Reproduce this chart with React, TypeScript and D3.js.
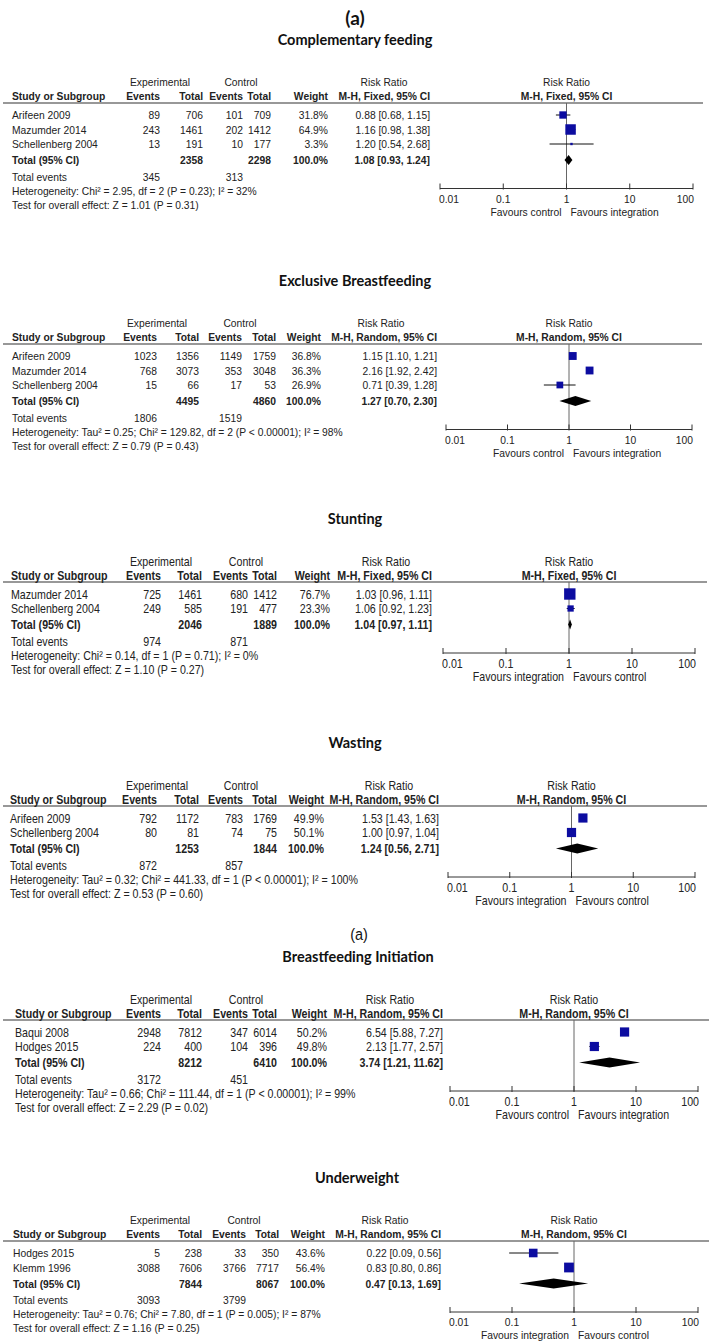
import React from "react";
import * as d3 from "d3";

type Row = [string, number, number, number, number, number, number, number, number];
// [study, expEvents, expTotal, ctrlEvents, ctrlTotal, weight, rr, lo, hi]
// totals: [expTotal, ctrlTotal, expEvents, ctrlEvents, rr, lo, hi]

const complementaryRows: Row[] = [
  ["Arifeen 2009", 89, 706, 101, 709, 31.8, 0.88, 0.68, 1.15],
  ["Mazumder 2014", 243, 1461, 202, 1412, 64.9, 1.16, 0.98, 1.38],
  ["Schellenberg 2004", 13, 191, 10, 177, 3.3, 1.2, 0.54, 2.68],
];
const complementaryTotal = [2358, 2298, 345, 313, 1.08, 0.93, 1.24];

const exclusiveRows: Row[] = [
  ["Arifeen 2009", 1023, 1356, 1149, 1759, 36.8, 1.15, 1.1, 1.21],
  ["Mazumder 2014", 768, 3073, 353, 3048, 36.3, 2.16, 1.92, 2.42],
  ["Schellenberg 2004", 15, 66, 17, 53, 26.9, 0.71, 0.39, 1.28],
];
const exclusiveTotal = [4495, 4860, 1806, 1519, 1.27, 0.7, 2.3];

const stuntingRows: Row[] = [
  ["Mazumder 2014", 725, 1461, 680, 1412, 76.7, 1.03, 0.96, 1.11],
  ["Schellenberg 2004", 249, 585, 191, 477, 23.3, 1.06, 0.92, 1.23],
];
const stuntingTotal = [2046, 1889, 974, 871, 1.04, 0.97, 1.11];

const wastingRows: Row[] = [
  ["Arifeen 2009", 792, 1172, 783, 1769, 49.9, 1.53, 1.43, 1.63],
  ["Schellenberg 2004", 80, 81, 74, 75, 50.1, 1.0, 0.97, 1.04],
];
const wastingTotal = [1253, 1844, 872, 857, 1.24, 0.56, 2.71];

const initiationRows: Row[] = [
  ["Baqui 2008", 2948, 7812, 347, 6014, 50.2, 6.54, 5.88, 7.27],
  ["Hodges 2015", 224, 400, 104, 396, 49.8, 2.13, 1.77, 2.57],
];
const initiationTotal = [8212, 6410, 3172, 451, 3.74, 1.21, 11.62];

const underweightRows: Row[] = [
  ["Hodges 2015", 5, 238, 33, 350, 43.6, 0.22, 0.09, 0.56],
  ["Klemm 1996", 3088, 7606, 3766, 7717, 56.4, 0.83, 0.8, 0.86],
];
const underweightTotal = [7844, 8067, 3093, 3799, 0.47, 0.13, 1.69];

const panelTitles = [
  "Complementary feeding",
  "Exclusive Breastfeeding",
  "Stunting",
  "Wasting",
  "Breastfeeding Initiation",
  "Underweight",
];
const methods = [
  "M-H, Fixed, 95% CI",
  "M-H, Random, 95% CI",
  "M-H, Fixed, 95% CI",
  "M-H, Random, 95% CI",
  "M-H, Random, 95% CI",
  "M-H, Random, 95% CI",
];
const heterogeneity = [
  "Heterogeneity: Chi² = 2.95, df = 2 (P = 0.23); I² = 32%",
  "Heterogeneity: Tau² = 0.25; Chi² = 129.82, df = 2 (P < 0.00001); I² = 98%",
  "Heterogeneity: Chi² = 0.14, df = 1 (P = 0.71); I² = 0%",
  "Heterogeneity: Tau² = 0.32; Chi² = 441.33, df = 1 (P < 0.00001); I² = 100%",
  "Heterogeneity: Tau² = 0.66; Chi² = 111.44, df = 1 (P < 0.00001); I² = 99%",
  "Heterogeneity: Tau² = 0.76; Chi² = 7.80, df = 1 (P = 0.005); I² = 87%",
];
const overallTests = [
  "Test for overall effect: Z = 1.01 (P = 0.31)",
  "Test for overall effect: Z = 0.79 (P = 0.43)",
  "Test for overall effect: Z = 1.10 (P = 0.27)",
  "Test for overall effect: Z = 0.53 (P = 0.60)",
  "Test for overall effect: Z = 2.29 (P = 0.02)",
  "Test for overall effect: Z = 1.16 (P = 0.25)",
];
const favoursLeft = ["Favours control", "Favours control", "Favours integration", "Favours integration", "Favours control", "Favours integration"];
const favoursRight = ["Favours integration", "Favours integration", "Favours control", "Favours control", "Favours integration", "Favours control"];
const axisTicks = [0.01, 0.1, 1, 10, 100];
const figureLabel = "(a)";

interface Layout {
  titleY: number;
  narrow: boolean;
  study: number; ee: number; et: number; ce: number; ct: number; w: number; rr: number;
  ax: [number, number];
  line: [number, number];
  titleX: number;
  rrHead: number;
}

const layouts: Layout[] = [
  { titleY: 40, narrow: false, study: 12, ee: 160, et: 203, ce: 243, ct: 271, w: 328, rr: 430, ax: [440, 693], line: [3, 703], titleX: 355, rrHead: 384 },
  { titleY: 281, narrow: false, study: 12, ee: 157, et: 199, ce: 242, ct: 276, w: 321, rr: 437, ax: [446, 692], line: [3, 702], titleX: 355, rrHead: 381 },
  { titleY: 519, narrow: true, study: 11, ee: 161, et: 202, ce: 248, ct: 277, w: 330, rr: 432, ax: [443, 695], line: [3, 707], titleX: 355, rrHead: 386 },
  { titleY: 743, narrow: true, study: 10, ee: 157, et: 199, ce: 243, ct: 277, w: 324, rr: 439, ax: [448, 695], line: [3, 707], titleX: 355, rrHead: 389 },
  { titleY: 957, narrow: true, study: 15, ee: 161, et: 202, ce: 248, ct: 277, w: 327, rr: 443, ax: [450, 698], line: [3, 709], titleX: 358, rrHead: 390 },
  { titleY: 1178, narrow: false, study: 13, ee: 160, et: 202, ce: 246, ct: 279, w: 325, rr: 441, ax: [450, 698], line: [3, 709], titleX: 357, rrHead: 385 },
];

const panelRows = [complementaryRows, exclusiveRows, stuntingRows, wastingRows, initiationRows, underweightRows];
const panelTotals = [complementaryTotal, exclusiveTotal, stuntingTotal, wastingTotal, initiationTotal, underweightTotal];

const f2 = d3.format(".2f");
const f1 = d3.format(".1f");
const ciText = (r: number, lo: number, hi: number) => `${f2(r)} [${f2(lo)}, ${f2(hi)}]`;
const squareSize = d3.scaleSqrt().domain([0, 100]).range([0, 13]);

const TEXT = "#222";
const BLUE = "#0c0ca0";

function Txt(props: { x: number; y: number; anchor?: string; bold?: boolean; narrow: boolean; children: any; size?: number }) {
  const fs = props.size ?? (props.narrow ? 13 : 11.2);
  const sx = props.narrow ? 0.82 : 0.92;
  const base = props.y + fs * 0.36;
  return (
    <text
      transform={`translate(${props.x},${base}) scale(${sx},1)`}
      textAnchor={props.anchor ?? "start"}
      fontFamily="'Liberation Sans', Arial, sans-serif"
      fontSize={fs}
      fontWeight={props.bold ? "bold" : "normal"}
      fill={TEXT}
    >
      {props.children}
    </text>
  );
}

function Panel({ idx }: { idx: number }) {
  const L = layouts[idx];
  const rows = panelRows[idx];
  const tot = panelTotals[idx];
  const n = L.narrow;
  const h1 = L.titleY + 42;
  const h2 = L.titleY + 56;
  const lineY = L.titleY + 63;
  const rowY = (i: number) => L.titleY + 75 + 14.5 * i;
  const totY = rowY(rows.length - 1) + 16;
  const tevY = totY + 16.5;
  const hetY = tevY + 14;
  const testY = hetY + 14;
  const axisY = hetY - 2;
  const x = d3.scaleLog().domain([0.01, 100]).range(L.ax);
  const x1 = x(1);
  const dh = 10;
  return (
    <g>
      <text x={L.titleX} y={L.titleY + 5} textAnchor="middle" fontFamily="Lato, 'Open Sans', sans-serif" fontWeight="bold" fontSize={14.5} fill="#111">
        {panelTitles[idx]}
      </text>
      <Txt x={L.ee} y={h1} anchor="middle" narrow={n}>Experimental</Txt>
      <Txt x={L.ce - 2} y={h1} anchor="middle" narrow={n}>Control</Txt>
      <Txt x={L.rrHead} y={h1} anchor="middle" narrow={n}>Risk Ratio</Txt>
      <Txt x={x1} y={h1} anchor="middle" narrow={n}>Risk Ratio</Txt>
      <Txt x={L.study} y={h2} bold narrow={n}>Study or Subgroup</Txt>
      <Txt x={L.ee} y={h2} anchor="end" bold narrow={n}>Events</Txt>
      <Txt x={L.et} y={h2} anchor="end" bold narrow={n}>Total</Txt>
      <Txt x={L.ce} y={h2} anchor="end" bold narrow={n}>Events</Txt>
      <Txt x={L.ct} y={h2} anchor="end" bold narrow={n}>Total</Txt>
      <Txt x={L.w} y={h2} anchor="end" bold narrow={n}>Weight</Txt>
      <Txt x={L.rr} y={h2} anchor="end" bold narrow={n}>{methods[idx]}</Txt>
      <Txt x={x1} y={h2} anchor="middle" bold narrow={n}>{methods[idx]}</Txt>
      <line x1={L.line[0]} x2={L.line[1]} y1={lineY} y2={lineY} stroke="#333" strokeWidth={1.2} />
      {rows.map((r, i) => {
        const y = rowY(i);
        return (
          <g key={i}>
            <Txt x={L.study} y={y} narrow={n}>{r[0]}</Txt>
            <Txt x={L.ee} y={y} anchor="end" narrow={n}>{r[1]}</Txt>
            <Txt x={L.et} y={y} anchor="end" narrow={n}>{r[2]}</Txt>
            <Txt x={L.ce} y={y} anchor="end" narrow={n}>{r[3]}</Txt>
            <Txt x={L.ct} y={y} anchor="end" narrow={n}>{r[4]}</Txt>
            <Txt x={L.w} y={y} anchor="end" narrow={n}>{f1(r[5]) + "%"}</Txt>
            <Txt x={L.rr} y={y} anchor="end" narrow={n}>{ciText(r[6], r[7], r[8])}</Txt>
          </g>
        );
      })}
      <Txt x={L.study} y={totY} bold narrow={n}>Total (95% CI)</Txt>
      <Txt x={L.et} y={totY} anchor="end" bold narrow={n}>{tot[0]}</Txt>
      <Txt x={L.ct} y={totY} anchor="end" bold narrow={n}>{tot[1]}</Txt>
      <Txt x={L.w} y={totY} anchor="end" bold narrow={n}>100.0%</Txt>
      <Txt x={L.rr} y={totY} anchor="end" bold narrow={n}>{ciText(tot[4], tot[5], tot[6])}</Txt>
      <Txt x={L.study} y={tevY} narrow={n}>Total events</Txt>
      <Txt x={L.ee} y={tevY} anchor="end" narrow={n}>{tot[2]}</Txt>
      <Txt x={L.ce} y={tevY} anchor="end" narrow={n}>{tot[3]}</Txt>
      <Txt x={L.study} y={hetY} narrow={n}>{heterogeneity[idx]}</Txt>
      <Txt x={L.study} y={testY} narrow={n}>{overallTests[idx]}</Txt>
      <line x1={x1} x2={x1} y1={lineY} y2={axisY} stroke="#666" strokeWidth={1} />
      {rows.map((r, i) => {
        const y = rowY(i);
        const s = squareSize(r[5]);
        return (
          <g key={"p" + i}>
            <line x1={x(r[7])} x2={x(r[8])} y1={y} y2={y} stroke="#111" strokeWidth={1} />
            <rect x={x(r[6]) - s / 2} y={y - s / 2} width={s} height={s} fill={BLUE} />
          </g>
        );
      })}
      <path
        d={`M${x(tot[5])},${totY} L${x(tot[4])},${totY - dh / 2} L${x(tot[6])},${totY} L${x(tot[4])},${totY + dh / 2} Z`}
        fill="#000"
      />
      <line x1={L.ax[0]} x2={L.ax[1]} y1={axisY} y2={axisY} stroke="#333" strokeWidth={1} />
      {axisTicks.map((t, i) => (
        <g key={"t" + i}>
          <line x1={x(t)} x2={x(t)} y1={axisY - 5} y2={axisY + 1} stroke="#333" strokeWidth={1} />
          <Txt
            x={i === 0 ? x(t) - 1 : i === axisTicks.length - 1 ? x(t) + 1 : x(t)}
            y={axisY + 10}
            anchor={i === 0 ? "start" : i === axisTicks.length - 1 ? "end" : "middle"}
            narrow={n}
          >
            {String(t)}
          </Txt>
        </g>
      ))}
      <Txt x={x1 - 5} y={axisY + 23} anchor="end" narrow={n}>{favoursLeft[idx]}</Txt>
      <Txt x={x1 + 4} y={axisY + 23} anchor="start" narrow={n}>{favoursRight[idx]}</Txt>
    </g>
  );
}

export default function App() {
  return (
    <svg
      width={709}
      height={1343}
      viewBox="0 0 709 1343"
      style={{ position: "absolute", left: 0, top: 0, background: "#fff" }}
    >
      <rect width={709} height={1343} fill="#fff" />
      <text x={355} y={25} textAnchor="middle" fontFamily="Lato, 'Open Sans', sans-serif" fontWeight="bold" fontSize={19} fill="#111">
        {figureLabel}
      </text>
      <text
        transform={`translate(359,940) scale(0.85,1)`}
        textAnchor="middle"
        fontFamily="'Liberation Sans', Arial, sans-serif"
        fontSize={17}
        fill="#111"
      >
        {figureLabel}
      </text>
      {layouts.map((_, i) => (
        <Panel key={i} idx={i} />
      ))}
    </svg>
  );
}
